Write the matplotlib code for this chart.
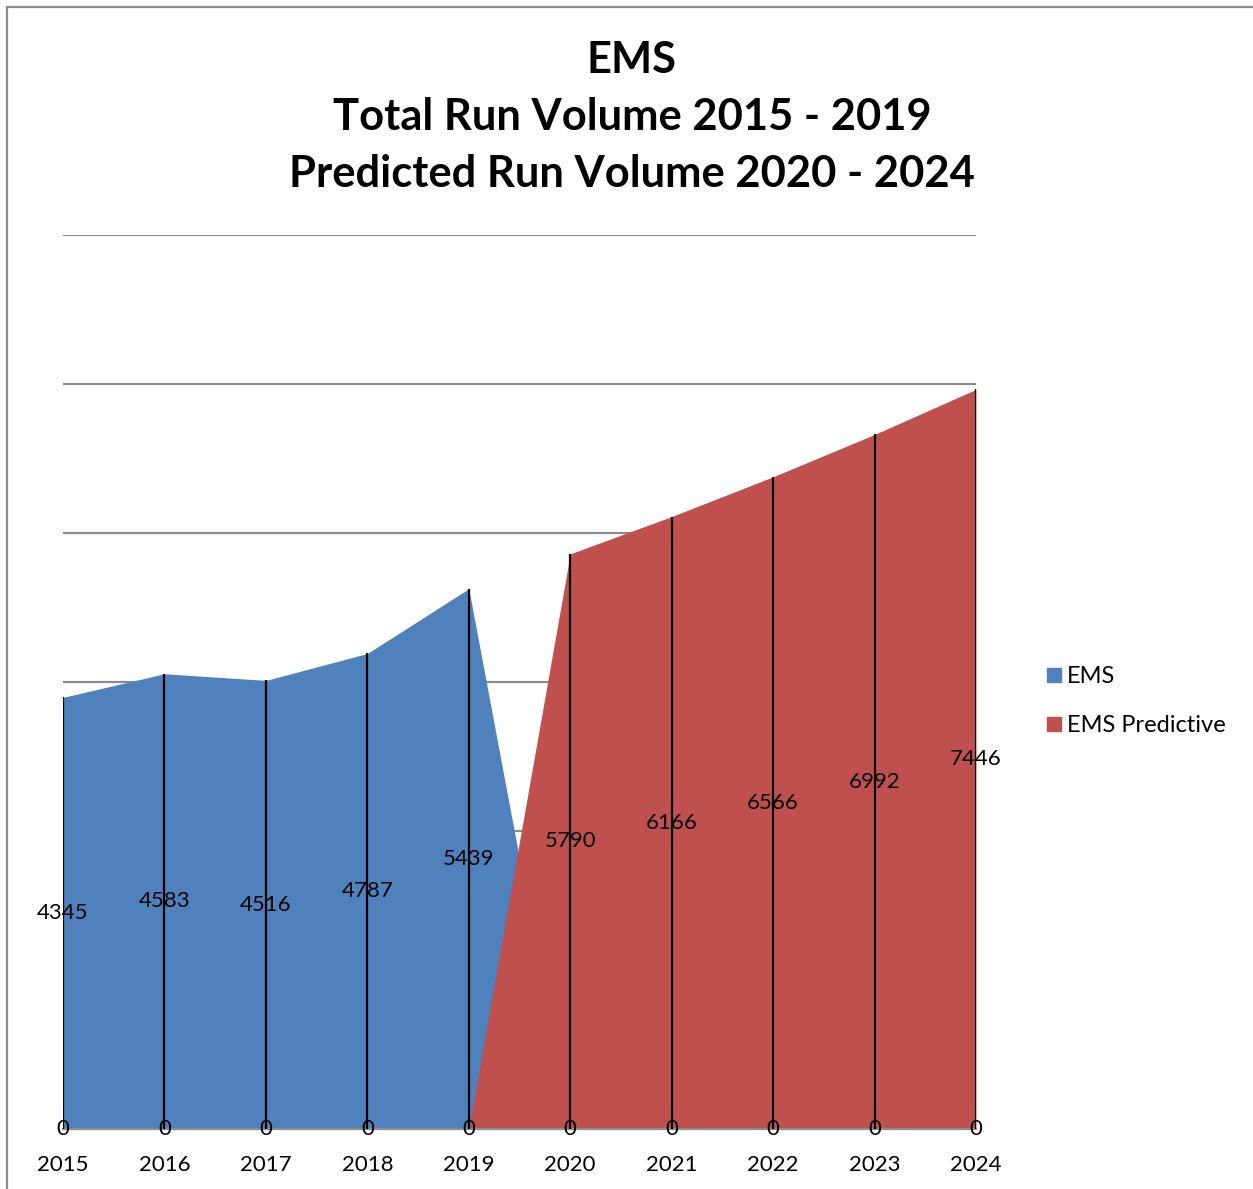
import matplotlib
matplotlib.use("Agg")
import matplotlib.pyplot as plt
from matplotlib.lines import Line2D
from matplotlib.patches import Rectangle

years = [2015, 2016, 2017, 2018, 2019, 2020, 2021, 2022, 2023, 2024]
ems = [4345, 4583, 4516, 4787, 5439, 0, 0, 0, 0, 0]
ems_pred = [0, 0, 0, 0, 0, 5790, 6166, 6566, 6992, 7446]
series_names = ["EMS", "EMS Predictive"]
colors = ["#4F81BD", "#C0504D"]
title = "EMS\nTotal Run Volume 2015 - 2019\nPredicted Run Volume 2020 - 2024"

plt.rcParams['font.family'] = ['Lato', 'DejaVu Sans']

fig = plt.figure(figsize=(12.53, 11.89), dpi=100)
ax = fig.add_axes([63/1253, 1 - 1129/1189, (976-63)/1253, (1129-235)/1189])

x = list(range(len(years)))
ax.fill_between(x, 0, ems, color=colors[0], linewidth=0, zorder=2)
ax.fill_between(x, 0, ems_pred, color=colors[1], linewidth=0, zorder=3)

for vals in (ems, ems_pred):
    for xi, v in zip(x, vals):
        if v > 0:
            ax.vlines(xi, 0, v, color='black', linewidth=1.6, zorder=4)
for vals in (ems, ems_pred):
    for xi, v in zip(x, vals):
        ax.text(xi, v / 2, str(v), ha='center', va='center', fontsize=16,
                color='black', zorder=5)

ax.set_xlim(0, len(years) - 1)
ax.set_ylim(0, 9000)
ax.set_yticks(range(0, 9001, 1500))
ax.yaxis.grid(True, color='#8C8C8C', linewidth=1.6, zorder=1)
ax.set_axisbelow(True)
ax.tick_params(axis='y', left=False, labelleft=False)
ax.set_xticks(x)
ax.set_xticklabels([str(y) for y in years], fontsize=16)
ax.tick_params(axis='x', length=0, pad=18.5)
for s in ['left', 'right', 'top']:
    ax.spines[s].set_visible(False)
ax.spines['bottom'].set_color('#8C8C8C')
ax.spines['bottom'].set_linewidth(1.6)
ax.spines['bottom'].set_zorder(3.5)

fig.text(632/1253, 1 - 117/1189, title, ha='center', va='center',
         fontsize=31.3, fontweight='bold', linespacing=1.52)

handles = [Line2D([], [], marker='s', linestyle='none', markersize=10,
                  markerfacecolor=c, markeredgecolor=c) for c in colors]
fig.legend(handles, series_names, loc='center left',
           bbox_to_anchor=(1021/1253, 1 - 701/1189), frameon=False,
           fontsize=17, handletextpad=0.05, labelspacing=1.2, handlelength=1.0)

fig.patches.append(Rectangle((7/1253, -0.01), 1.1, 1 - 7/1189 + 0.01,
                             transform=fig.transFigure, fill=False,
                             edgecolor='#8C8C8C', linewidth=1.6))

fig.savefig("out.png", dpi=100)
